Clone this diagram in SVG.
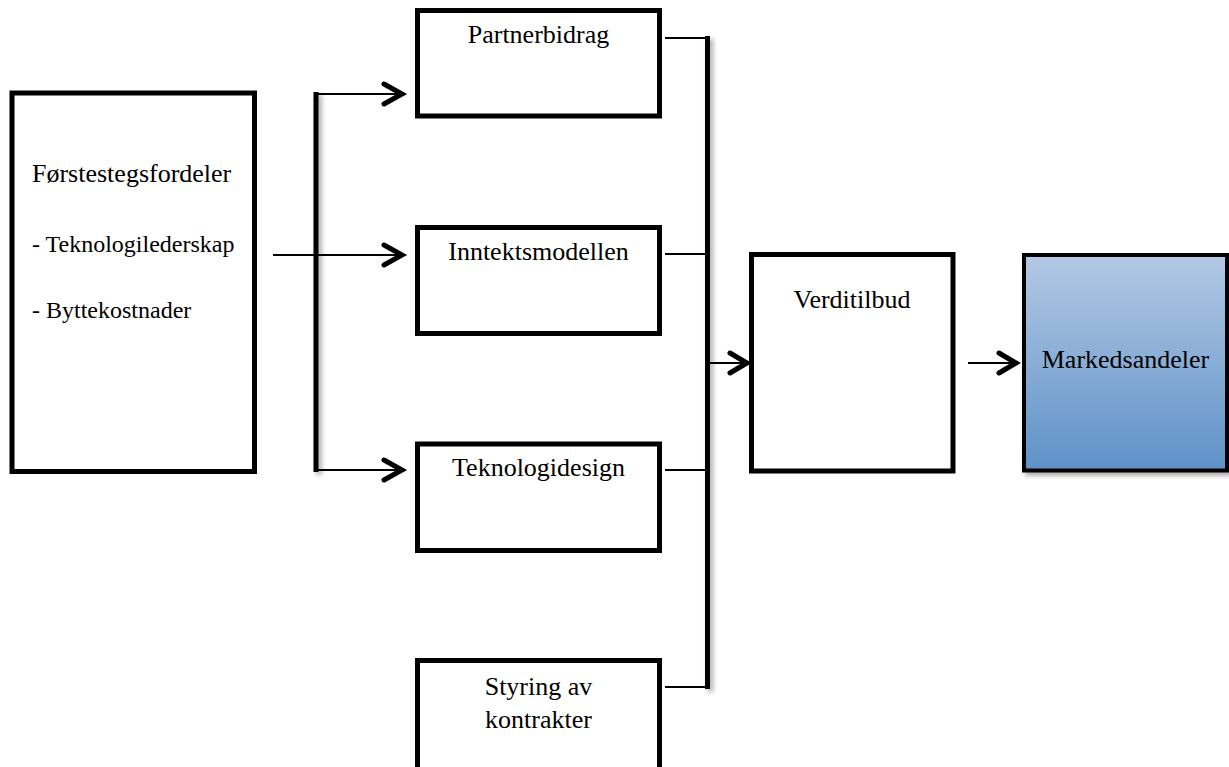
<svg xmlns="http://www.w3.org/2000/svg" width="1229" height="767" viewBox="0 0 1229 767">
  <defs>
    <linearGradient id="blueFill" x1="0" y1="0" x2="0" y2="1">
      <stop offset="0" stop-color="#b3c9e4"/>
      <stop offset="1" stop-color="#5f91c8"/>
    </linearGradient>
    <filter id="shadow" filterUnits="userSpaceOnUse" x="0" y="0" width="1229" height="767">
      <feGaussianBlur in="SourceAlpha" stdDeviation="2.5"/>
      <feOffset dx="3" dy="3" result="b"/>
      <feComponentTransfer><feFuncA type="linear" slope="0.35"/></feComponentTransfer>
      <feMerge><feMergeNode/><feMergeNode in="SourceGraphic"/></feMerge>
    </filter>
    <style>
      .box { fill: #ffffff; stroke: #000000; stroke-width: 5; }
      .txt { font-family: "Liberation Serif", "Times New Roman", serif; font-size: 26px; fill: #000000; }
      .mid { text-anchor: middle; }
      .sub { font-size: 24px; }
      .bus { stroke: #000000; stroke-width: 5; fill: none; }
      .thin { stroke: #000000; stroke-width: 2; fill: none; }
      .head { stroke: #000000; stroke-width: 5; fill: none; stroke-linecap: round; stroke-linejoin: miter; }
    </style>
  </defs>

  <g id="connectors">
    <!-- left bracket -->
    <line class="bus" x1="316" y1="92" x2="316" y2="472" filter="url(#shadow)"/>
    <line class="thin" x1="273" y1="255" x2="316" y2="255"/>
    <line class="thin" x1="316" y1="94" x2="401" y2="94"/>
    <line class="thin" x1="316" y1="255" x2="401" y2="255"/>
    <line class="thin" x1="316" y1="470" x2="401" y2="470"/>
    <polyline class="head" points="384,84 402,94 384,104"/>
    <polyline class="head" points="384,245 402,255 384,265"/>
    <polyline class="head" points="384,460 402,470 384,480"/>

    <!-- right bus -->
    <line class="bus" x1="707.5" y1="36" x2="707.5" y2="689" filter="url(#shadow)"/>
    <line class="thin" x1="665" y1="38" x2="707" y2="38"/>
    <line class="thin" x1="665" y1="254" x2="707" y2="254"/>
    <line class="thin" x1="665" y1="470" x2="707" y2="470"/>
    <line class="thin" x1="665" y1="687" x2="707" y2="687"/>
    <line class="thin" x1="710" y1="363" x2="746" y2="363"/>
    <polyline class="head" points="730,353 747,363 730,373"/>

    <!-- to Markedsandeler -->
    <line class="thin" x1="968" y1="363" x2="1016" y2="363"/>
    <polyline class="head" points="999,353 1016,363 999,373"/>
  </g>

  <g id="node-forstestegsfordeler">
    <rect class="box" x="12" y="93" width="242.5" height="378.5"/>
    <text class="txt" x="32" y="182">Førstestegsfordeler</text>
    <text class="txt sub" x="32" y="252">- Teknologilederskap</text>
    <text class="txt sub" x="32" y="318">- Byttekostnader</text>
  </g>

  <g id="node-partnerbidrag">
    <rect class="box" x="417.5" y="10.5" width="242" height="105.5"/>
    <text class="txt mid" x="538.5" y="43">Partnerbidrag</text>
  </g>

  <g id="node-inntektsmodellen">
    <rect class="box" x="417.5" y="227.5" width="242" height="106"/>
    <text class="txt mid" x="538.5" y="260">Inntektsmodellen</text>
  </g>

  <g id="node-teknologidesign">
    <rect class="box" x="417.5" y="444" width="242" height="106.5"/>
    <text class="txt mid" x="538.5" y="476">Teknologidesign</text>
  </g>

  <g id="node-styring">
    <rect class="box" x="417.5" y="660.5" width="242" height="112"/>
    <text class="txt mid" x="538.5" y="695">Styring av</text>
    <text class="txt mid" x="538.5" y="728">kontrakter</text>
  </g>

  <g id="node-verditilbud">
    <rect class="box" x="751.5" y="254.5" width="201.5" height="216.5"/>
    <text class="txt mid" x="852" y="308">Verditilbud</text>
  </g>

  <g id="node-markedsandeler">
    <rect x="1024" y="255" width="203" height="215.5" fill="url(#blueFill)" stroke="#000000" stroke-width="4" filter="url(#shadow)"/>
    <text class="txt mid" x="1125.5" y="368">Markedsandeler</text>
  </g>
</svg>
